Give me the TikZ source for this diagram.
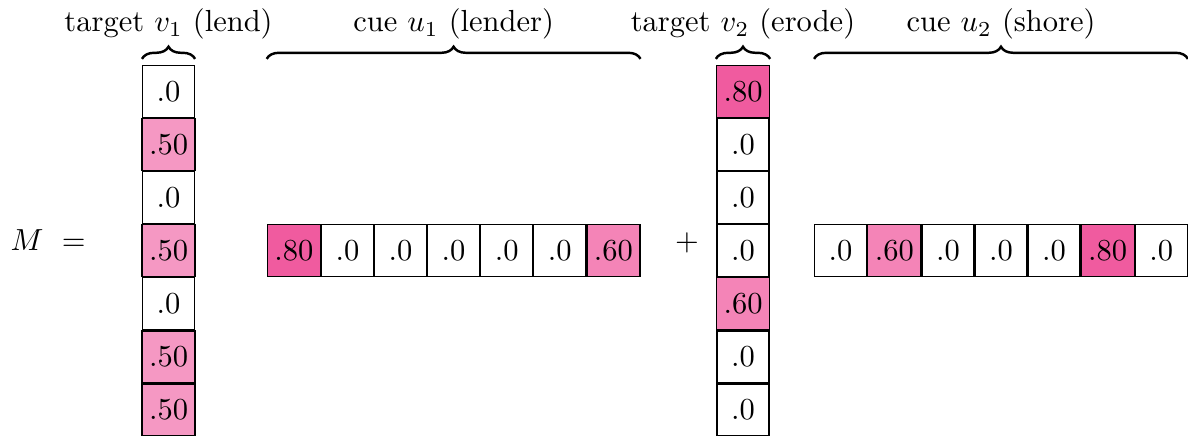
\documentclass[tikz,border=0pt]{standalone}
\usepackage{amsmath}
\usepackage{tikz}
\usetikzlibrary{positioning, decorations.pathreplacing}
\definecolor{cellpink}{RGB}{236,50,135}

\begin{document}
\begin{tikzpicture}[
    cell/.style={draw, minimum size=17pt, inner sep=2.3pt},
    brc/.style={decorate, thick, decoration={brace, amplitude=4pt, raise=2pt}}
  ]
  \useasboundingbox (0,0) rectangle (13.69,-5.013);

  % Target column v1 (start point, then stacked downwards)
  \coordinate (v1-0) at (1.942,-0.749);
  \foreach \val/\tint [count=\i] in {.0/0, .50/50, .0/0, .50/50, .0/0, .50/50, .50/50} {
    \pgfmathtruncatemacro{\prev}{\i-1}
    \node (v1-\i) [cell, fill=cellpink!\tint, below=0pt of v1-\prev] {\val};
  }

  % Cue row u1, level with the fourth cell of v1
  \coordinate [right=23.3pt of v1-4] (u1-0);
  \foreach \val/\tint [count=\i] in {.80/80, .0/0, .0/0, .0/0, .0/0, .0/0, .60/60} {
    \pgfmathtruncatemacro{\prev}{\i-1}
    \node (u1-\i) [cell, fill=cellpink!\tint, right=0pt of u1-\prev] {\val};
  }

  % Target column v2
  \coordinate (v2-0) at (8.562,-0.749);
  \foreach \val/\tint [count=\i] in {.80/80, .0/0, .0/0, .0/0, .60/60, .0/0, .0/0} {
    \pgfmathtruncatemacro{\prev}{\i-1}
    \node (v2-\i) [cell, fill=cellpink!\tint, below=0pt of v2-\prev] {\val};
  }

  % Cue row u2
  \coordinate [right=14.6pt of v2-4] (u2-0);
  \foreach \val/\tint [count=\i] in {.0/0, .60/60, .0/0, .0/0, .0/0, .80/80, .0/0} {
    \pgfmathtruncatemacro{\prev}{\i-1}
    \node (u2-\i) [cell, fill=cellpink!\tint, right=0pt of u2-\prev] {\val};
  }

  % M = ... + ...
  \node (lhs)  [anchor=base] at (0.311,0 |- v1-4.center) {$M$};
  \node (eq)   [anchor=base] at (0.850,0 |- v1-4.center) {$=$};
  \node (plus) [anchor=base] at (7.917,0 |- v1-4.center) {$+$};

  % Braces with their labels
  \draw[brc] (v1-1.north west) -- (v1-1.north east)
    node (lbl-v1) [midway, above=4.7pt] {target $v_1$ (lend)};
  \draw[brc] (u1-1.west |- v1-1.north) -- (u1-7.east |- v1-1.north)
    node (lbl-u1) [midway, above=4.7pt] {cue $u_1$ (lender)};
  \draw[brc] (v2-1.north west) -- (v2-1.north east)
    node (lbl-v2) [midway, above=4.7pt] {target $v_2$ (erode)};
  \draw[brc] (u2-1.west |- v2-1.north) -- (u2-7.east |- v2-1.north)
    node (lbl-u2) [midway, above=4.7pt] {cue $u_2$ (shore)};
\end{tikzpicture}
\end{document}
